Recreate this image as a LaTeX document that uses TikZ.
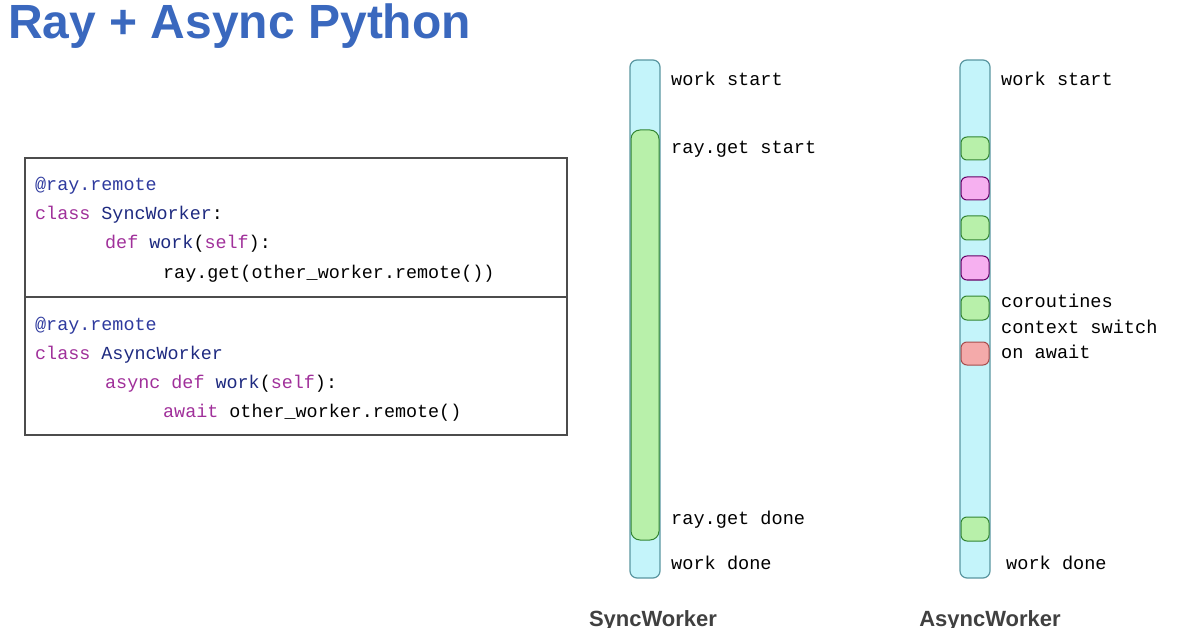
\documentclass[tikz,border=0pt]{standalone}
\usepackage{fontspec}
\setmainfont{Liberation Sans}
\setsansfont{Liberation Sans}
\setmonofont{Liberation Mono}
\begin{document}
\begin{tikzpicture}[x=1pt,y=-1pt,
  bar/.style={draw={rgb,255:red,90;green,150;blue,160},fill={rgb,255:red,196;green,244;blue,250},rounded corners=7pt,line width=1.2pt},
  gblk/.style={draw=green!40!black!80,fill={rgb,255:red,184;green,240;blue,170},rounded corners=6pt,line width=1pt},
  pblk/.style={draw=violet!80!black,fill={rgb,255:red,246;green,176;blue,240},rounded corners=6pt,line width=1pt},
  rblk/.style={draw=red!50!black!70,fill={rgb,255:red,244;green,170;blue,170},rounded corners=6pt,line width=1pt},
  lbl/.style={anchor=west,font=\ttfamily\fontsize{18.6}{20}\selectfont,inner sep=0pt},
  code/.style={anchor=base west,font=\ttfamily\fontsize{18.4}{20}\selectfont,inner sep=0pt},
  wlbl/.style={anchor=north,font=\sffamily\bfseries\fontsize{22}{24}\selectfont,text=black!75,inner sep=0pt}]
\useasboundingbox (0,0) rectangle (1196,628);
\definecolor{dec}{HTML}{2E3A9E}
\definecolor{kw}{HTML}{A0309A}
\definecolor{nm}{HTML}{1E2A80}
\node[anchor=base west,inner sep=0pt,font=\bfseries\fontsize{48}{52}\selectfont,text={rgb,255:red,58;green,104;blue,190}] (title) at (8,39) {Ray + Async Python};
% code box
\draw[line width=1.2pt,black!70] (25,158) rectangle (567,435);
\draw[line width=1.2pt,black!70] (25,297) -- (567,297);
\node[code,text=dec] (c1) at (35,191) {@ray.remote};
\node[code] (c2) at (35,220) {\textcolor{kw}{class} \textcolor{nm}{SyncWorker}:};
\node[code] (c3) at (105,249) {\textcolor{kw}{def} \textcolor{nm}{work}(\textcolor{kw}{self}):};
\node[code] (c4) at (163,278) {ray.get(other\_worker.remote())};
\node[code,text=dec] (c5) at (35,330) {@ray.remote};
\node[code] (c6) at (35,359) {\textcolor{kw}{class} \textcolor{nm}{AsyncWorker}};
\node[code] (c7) at (105,388) {\textcolor{kw}{async} \textcolor{kw}{def} \textcolor{nm}{work}(\textcolor{kw}{self}):};
\node[code] (c8) at (163,417) {\textcolor{kw}{await} other\_worker.remote()};
% sync bar
\draw[bar] (630,60) rectangle (660,578);
\draw[gblk,rounded corners=9pt] (631,130) rectangle (659,540);
\node[lbl] (s1) at (671,79) {work start};
\node[lbl] (s2) at (671,149) {ray.get start};
\node[lbl] (s3) at (671,520) {ray.get done};
\node[lbl] (s4) at (671,563) {work done};
% async bar
\draw[bar] (960,60) rectangle (990,578);
\draw[gblk] (961,137) rectangle (989,160);
\draw[pblk] (961,177) rectangle (989,200);
\draw[gblk] (961,216) rectangle (989,240);
\draw[pblk] (961,256) rectangle (989,280);
\draw[gblk] (961,296) rectangle (989,320);
\draw[rblk] (961,342) rectangle (989,365);
\draw[gblk] (961,517) rectangle (989,541);
\node[lbl] (a1) at (1001,79) {work start};
\node[lbl] (a2) at (1001,301) {coroutines};
\node[lbl] (a3) at (1001,327) {context switch};
\node[lbl] (a4) at (1001,352) {on await};
\node[lbl] (a5) at (1006,563) {work done};
\node[wlbl] (w1) at (653,610) {SyncWorker};
\node[wlbl] (w2) at (990,610) {AsyncWorker};
\end{tikzpicture}
\end{document}
